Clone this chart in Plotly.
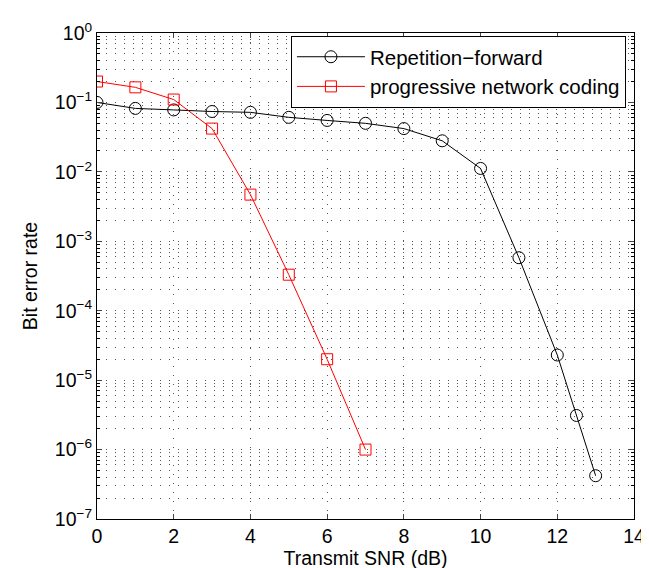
import plotly.graph_objects as go

# Repetition-forward (black circles)
snr_rep = [0, 1, 2, 3, 4, 5, 6, 7, 8, 9, 10, 11, 12, 12.5, 13]
ber_rep = [0.1, 0.082, 0.078, 0.074, 0.072, 0.061, 0.055, 0.05, 0.042,
           0.028, 0.0112, 5.8e-4, 2.3e-5, 3.1e-6, 4.2e-7]

# progressive network coding (red squares)
snr_pnc = [0, 1, 2, 3, 4, 5, 6, 7]
ber_pnc = [0.2, 0.165, 0.11, 0.042, 4.7e-3, 3.3e-4, 2.0e-5, 1.0e-6]

x_ticks = [0, 2, 4, 6, 8, 10, 12, 14]
y_ticks = [1e-7, 1e-6, 1e-5, 1e-4, 1e-3, 1e-2, 1e-1, 1]
y_ticktext = ["10<sup>−7</sup>", "10<sup>−6</sup>", "10<sup>−5</sup>", "10<sup>−4</sup>",
              "10<sup>−3</sup>", "10<sup>−2</sup>", "10<sup>−1</sup>", "10<sup>0</sup>"]

font = "Liberation Sans, Arial, sans-serif"
grid_col = "#555555"
grid_dash = "1px,8px"

fig = go.Figure()
fig.add_trace(go.Scatter(
    x=snr_rep, y=ber_rep, mode="lines+markers", name="Repetition−forward",
    line=dict(color="black", width=1),
    marker=dict(symbol="circle-open", size=12, color="black", line=dict(width=1)),
))
fig.add_trace(go.Scatter(
    x=snr_pnc, y=ber_pnc, mode="lines+markers", name="progressive network coding",
    line=dict(color="#ff0000", width=1),
    marker=dict(symbol="square-open", size=11, color="#ff0000", line=dict(width=1)),
))

fig.update_layout(
    width=649, height=568,
    margin=dict(l=89, r=23, t=20, b=57),
    paper_bgcolor="white", plot_bgcolor="white",
    font=dict(family=font, size=19, color="black"),
    legend=dict(x=0.985, y=0.994, xanchor="right", yanchor="top",
                bgcolor="white", bordercolor="black", borderwidth=1,
                font=dict(size=20.5), itemwidth=68, tracegroupgap=0),
    showlegend=True,
)
fig.update_xaxes(
    range=[0, 14], tickvals=x_ticks, ticks="inside", ticklen=5,
    tickfont=dict(size=19.5),
    showline=True, linecolor="black", linewidth=1, mirror="ticks",
    showgrid=True, gridcolor=grid_col, griddash=grid_dash, gridwidth=1,
    zeroline=False,
    title=dict(text="Transmit SNR (dB)", standoff=2, font=dict(size=19.5)),
)
fig.update_yaxes(
    type="log", range=[-7, 0], tickmode="array", tickvals=y_ticks, ticktext=y_ticktext,
    ticks="inside", ticklen=5, tickfont=dict(size=19.5),
    showline=True, linecolor="black", linewidth=1, mirror="ticks",
    showgrid=True, gridcolor=grid_col, griddash=grid_dash, gridwidth=1,
    minor=dict(dtick="D1", ticks="inside", ticklen=3, tickcolor="black",
               showgrid=True, gridcolor=grid_col, griddash=grid_dash, gridwidth=1),
    zeroline=False,
    title=dict(text="Bit error rate", standoff=12, font=dict(size=19.5)),
)

fig.write_html("out.html")
